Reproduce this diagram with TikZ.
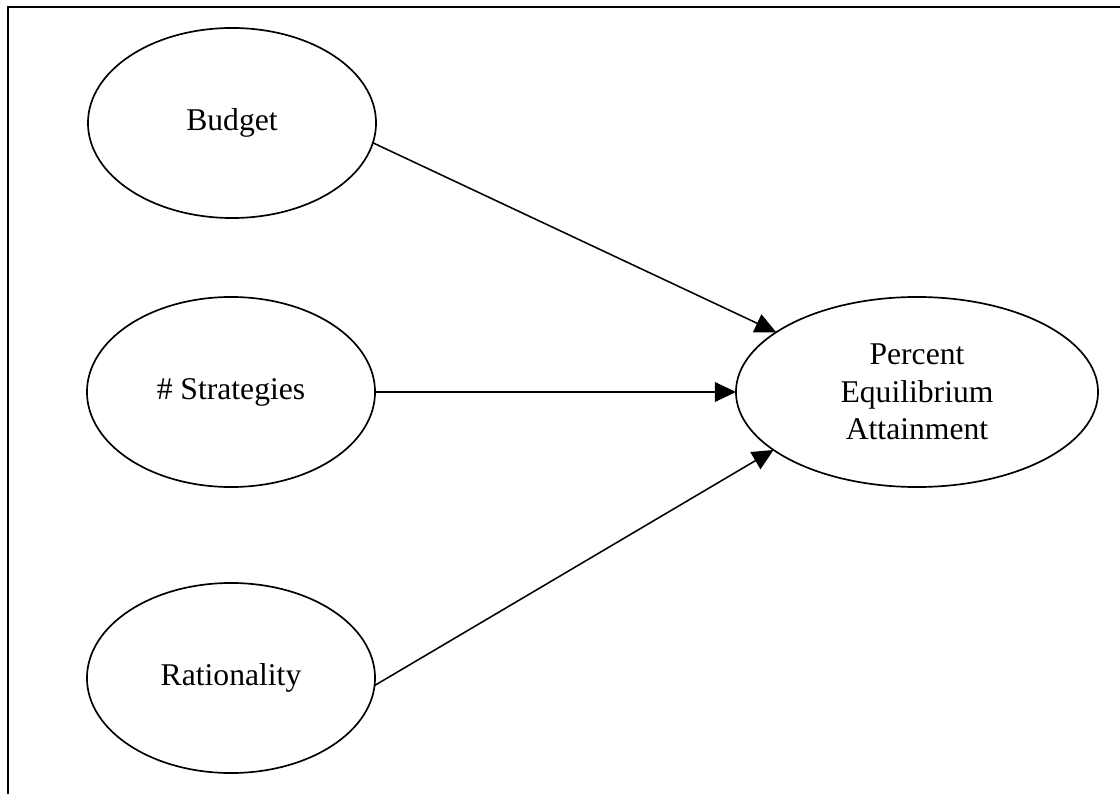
\documentclass[tikz,border=0pt]{standalone}
\usepackage{fontspec}
\setmainfont{Liberation Serif}
\usetikzlibrary{shapes.geometric,arrows.meta}
\begin{document}
\begin{tikzpicture}[x=0.025cm,y=-0.025cm,
  var/.style={draw,ellipse,line width=1.2pt,inner sep=0pt,outer sep=0pt,
    minimum width=7.2cm,minimum height=4.75cm,
    font=\fontsize{22.5}{26.5}\selectfont,align=center},
  link/.style={line width=1.1pt,-{Triangle[length=15pt,width=14pt]}}]
\useasboundingbox (0,0) rectangle (1120,794);
\coordinate (fb) at (8,794);
\coordinate (fc) at (8,7);
\coordinate (fr) at (1120,7);
\draw[line width=1.8pt] (fb) -- (fc) -- (fr);
\node[var] (bud) at (232,123) {Budget};
\node[var] (str) at (231,392) {\# Strategies};
\node[var] (rat) at (231,678) {Rationality};
\node[var,minimum width=9.05cm] (pea) at (917,392) {Percent\\Equilibrium\\Attainment};
\draw[link] (bud.-8) -- (pea.157);
\draw[link] (str.east) -- (pea.west);
\draw[link] (rat.-3.6) -- (pea.-158.4);
\end{tikzpicture}
\end{document}
